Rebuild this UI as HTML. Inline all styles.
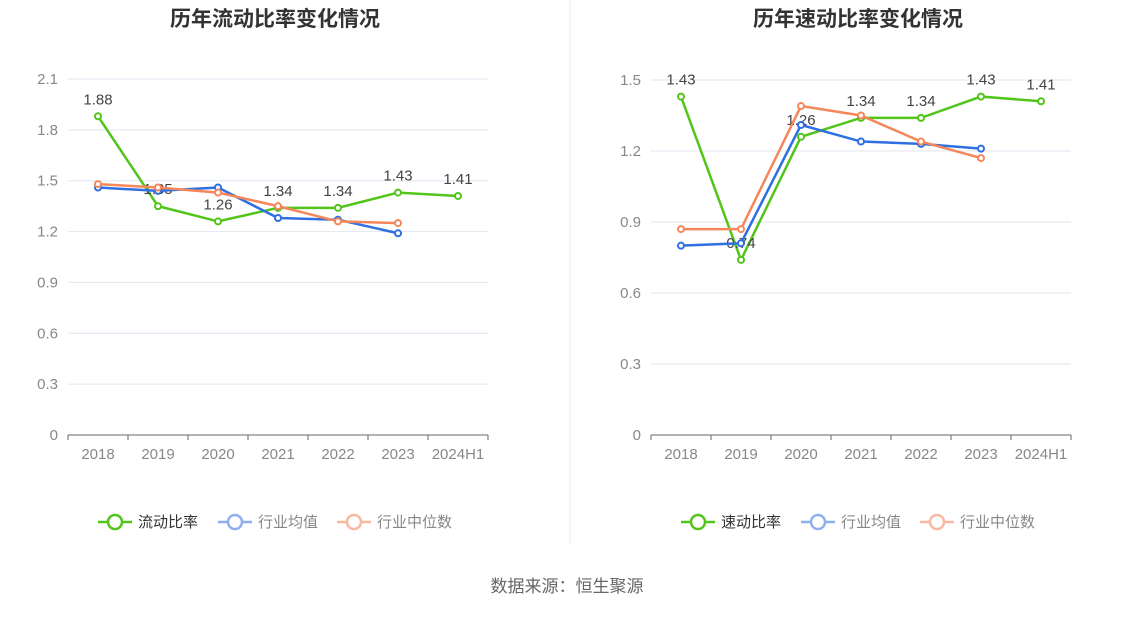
<!DOCTYPE html>
<html><head><meta charset="utf-8"><style>
body{margin:0;background:#fff;font-family:"Liberation Sans","Noto Sans CJK SC",sans-serif;}
svg text{font-family:"Liberation Sans","Noto Sans CJK SC",sans-serif;}
</style></head><body>
<svg id="c" width="1134" height="612">
<line x1="570" y1="0" x2="570" y2="545" stroke="#eaeaea"/>
<text x="567" y="592" text-anchor="middle" font-size="17" fill="#666">数据来源：恒生聚源</text>
</svg>
<script>
const categories=["2018","2019","2020","2021","2022","2023","2024H1"];
const currentRatio=[1.88,1.35,1.26,1.34,1.34,1.43,1.41];
const currentAvg=[1.46,1.44,1.46,1.28,1.27,1.19,null];
const currentMedian=[1.48,1.46,1.43,1.35,1.26,1.25,null];
const quickRatio=[1.43,0.74,1.26,1.34,1.34,1.43,1.41];
const quickAvg=[0.80,0.81,1.31,1.24,1.23,1.21,null];
const quickMedian=[0.87,0.87,1.39,1.35,1.24,1.17,null];
const leftTicks=[0,0.3,0.6,0.9,1.2,1.5,1.8,2.1];
const rightTicks=[0,0.3,0.6,0.9,1.2,1.5];
const NS="http://www.w3.org/2000/svg";
const svg=document.getElementById('c');
function mk(tag,attrs,parent){const e=document.createElementNS(NS,tag);for(const k in attrs)e.setAttribute(k,attrs[k]);(parent||svg).appendChild(e);return e;}
function panel(p){
  const g=mk('g',{});
  
  
  const y=v=>p.y0-(v/p.max)*(p.y0-p.yTop);
  const x=i=>p.x0+30+i*60;
  const t=mk('text',{x:p.cx,y:26,'text-anchor':'middle','font-size':21,'font-weight':'bold',fill:'#333'},g);
  t.textContent=p.title;
  
  
  p.ticks.forEach(v=>{
    const l=mk('line',{x1:p.x0,x2:p.x1,y1:y(v),y2:y(v),stroke:v===0?'#666':'#e0e6f1'},g);
    
    
    const tx=mk('text',{x:p.x0-10,y:y(v)+5,'text-anchor':'end','font-size':15,fill:'#888'},g);
    tx.textContent=String(v);
    
    
  });
  categories.forEach((c,i)=>{
    const tk=mk('line',{x1:p.x0+i*60,x2:p.x0+i*60,y1:p.y0,y2:p.y0+5,stroke:'#666'},g);
    
    
    const tx=mk('text',{x:x(i),y:p.y0+24,'text-anchor':'middle','font-size':15,fill:'#888'},g);
    tx.textContent=c;
    
    
  });
  const e=mk('line',{x1:p.x1,x2:p.x1,y1:p.y0,y2:p.y0+5,stroke:'#666'},g);
  
  
  p.series.forEach((s,si)=>{
    let d='';s.data.forEach((v,i)=>{if(v!=null)d+=(d?'L':'M')+x(i)+','+y(v);});
    const pa=mk('path',{d:d,fill:'none',stroke:s.color,'stroke-width':2.5},g);
    
    
    s.data.forEach((v,i)=>{if(v==null)return;
      const ci=mk('circle',{cx:x(i),cy:y(v),r:3,fill:'#fff',stroke:s.color,'stroke-width':2},g);
      
      
      if(si===0){const lb=mk('text',{x:x(i),y:y(v)-12,'text-anchor':'middle','font-size':15,fill:'#444'},g);
        lb.textContent=v.toFixed(2);
        
        }
    });
    const lx=p.legendX[si];
    const lg=mk('g',{},g);
    
    
    mk('line',{x1:lx,x2:lx+34,y1:522,y2:522,stroke:si?s.light:s.color,'stroke-width':2.5},lg);
    mk('circle',{cx:lx+17,cy:522,r:7,fill:'#fff',stroke:si?s.light:s.color,'stroke-width':2.5},lg);
    const lt=mk('text',{x:lx+40,y:527,'font-size':15,fill:si?'#888':'#333'},lg);
    lt.textContent=s.label;
  });
}
panel({name:'current-ratio-chart',title:'历年流动比率变化情况',cx:275,x0:68,x1:488,y0:435,yTop:79,max:2.1,ticks:leftTicks,legendX:[98,218,337],
 series:[{key:'current-ratio',label:'流动比率',color:'#52c41a',data:currentRatio},
 {key:'industry-average',label:'行业均值',color:'#2f6fe0',light:'#8fb0f0',data:currentAvg},
 {key:'industry-median',label:'行业中位数',color:'#f5875a',light:'#f9b9a0',data:currentMedian}]});
panel({name:'quick-ratio-chart',title:'历年速动比率变化情况',cx:858,x0:651,x1:1071,y0:435,yTop:80,max:1.5,ticks:rightTicks,legendX:[681,801,920],
 series:[{key:'quick-ratio',label:'速动比率',color:'#52c41a',data:quickRatio},
 {key:'industry-average',label:'行业均值',color:'#2f6fe0',light:'#8fb0f0',data:quickAvg},
 {key:'industry-median',label:'行业中位数',color:'#f5875a',light:'#f9b9a0',data:quickMedian}]});
</script>
</body></html>
